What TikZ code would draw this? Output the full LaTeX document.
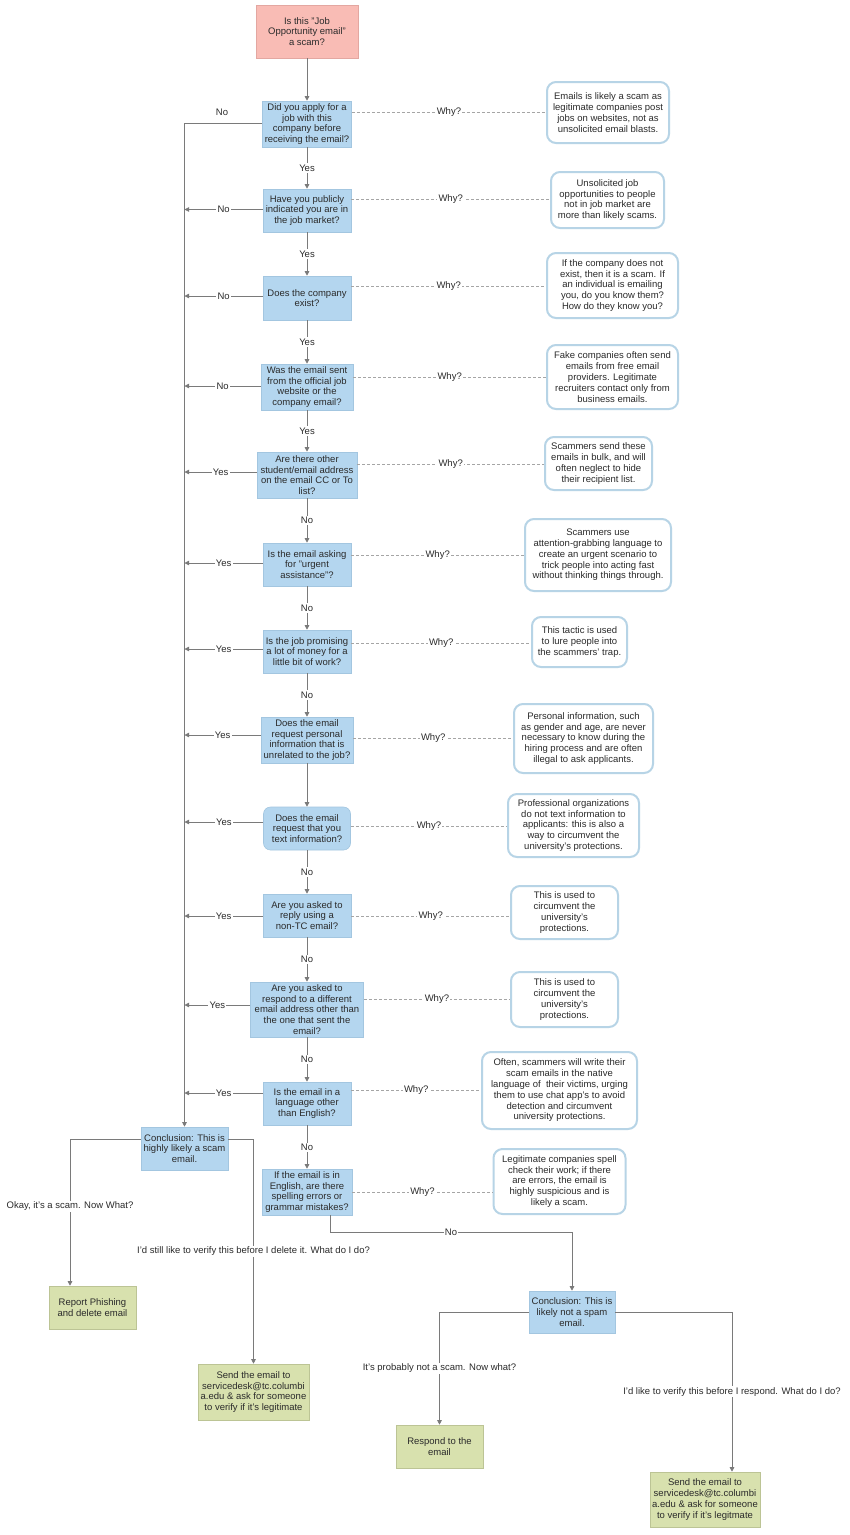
\documentclass[tikz,border=0pt]{standalone}
\usepackage{fontspec}
\setmainfont{Liberation Sans}
\usetikzlibrary{arrows.meta,calc}
\definecolor{qblue}{HTML}{B4D6EF}
\definecolor{qblueb}{HTML}{A3C6E0}
\definecolor{pinkf}{HTML}{F9BCB5}
\definecolor{pinkb}{HTML}{E3A7A1}
\definecolor{greenf}{HTML}{D8E1AE}
\definecolor{greenb}{HTML}{BCC495}
\definecolor{nborder}{HTML}{B7D4E6}
\definecolor{lgray}{HTML}{7A7A7A}
\definecolor{dgray}{HTML}{A5A5A5}
\definecolor{txt}{HTML}{2B2B2B}
\tikzset{
  base/.style={font=\fontsize{9.5}{10.8}\selectfont, text=txt, align=center, inner sep=0pt},
  qbox/.style={base, rectangle, fill=qblue, draw=qblueb, line width=0.6pt},
  startbox/.style={base, rectangle, fill=pinkf, draw=pinkb, line width=0.6pt},
  endbox/.style={base, rectangle, fill=greenf, draw=greenb, line width=0.6pt},
  note/.style={base, rectangle, rounded corners=9pt, fill=white, draw=nborder, line width=2pt},
  conn/.style={draw=lgray, line width=0.8pt},
  arr/.style={conn, -{Triangle[length=4.5pt,width=4.5pt]}},
  why/.style={draw=dgray, line width=0.6pt, dash pattern=on 3pt off 2pt},
  lab/.style={base, fill=white, inner sep=1.2pt},
}
\begin{document}
\begin{tikzpicture}[x=1pt,y=-1pt]
\useasboundingbox (0,0) rectangle (850,1535);
\fill[white] (0,0) rectangle (850,1535);

% start
\node[startbox, minimum width=102pt, minimum height=53pt] (S) at (307,31.5) {Is this "Job\\Opportunity email"\\a scam?};

% questions
\node[qbox, minimum width=89pt, minimum height=46pt] (Q1) at (307,124) {Did you apply for a\\job with this\\company before\\receiving the email?};
\node[qbox, minimum width=88pt, minimum height=43pt] (Q2) at (307,210.5) {Have you publicly\\indicated you are in\\the job market?};
\node[qbox, minimum width=88pt, minimum height=44pt] (Q3) at (307,298) {Does the company\\exist?};
\node[qbox, minimum width=92pt, minimum height=46pt] (Q4) at (307,387) {Was the email sent\\from the official job\\website or the\\company email?};
\node[qbox, minimum width=100pt, minimum height=46pt] (Q5) at (307,475) {Are there other\\student/email address\\on the email CC or To\\list?};
\node[qbox, minimum width=88pt, minimum height=43pt] (Q6) at (307,564.5) {Is the email asking\\for "urgent\\assistance"?};
\node[qbox, minimum width=88pt, minimum height=43pt] (Q7) at (307,651.5) {Is the job promising\\a lot of money for a\\little bit of work?};
\node[qbox, minimum width=92pt, minimum height=46pt] (Q8) at (307,740) {Does the email\\request personal\\information that is\\unrelated to the job?};
\node[qbox, rounded corners=7pt, minimum width=87pt, minimum height=43pt] (Q9) at (307,828.5) {Does the email\\request that you\\text information?};
\node[qbox, minimum width=88pt, minimum height=43pt] (Q10) at (307,915.5) {Are you asked to\\reply using a\\non-TC email?};
\node[qbox, minimum width=113pt, minimum height=55pt] (Q11) at (307,1009.5) {Are you asked to\\respond to a different\\email address other than\\the one that sent the\\email?};
\node[qbox, minimum width=88pt, minimum height=43pt] (Q12) at (307,1103.5) {Is the email in a\\language other\\than English?};
\node[qbox, minimum width=90pt, minimum height=46pt] (Q13) at (307,1192) {If the email is in\\English, are there\\spelling errors or\\grammar mistakes?};

% conclusions and actions
\node[qbox, minimum width=87pt, minimum height=43pt] (C1) at (184.5,1148.5) {Conclusion: This is\\highly likely a scam\\email.};
\node[qbox, minimum width=86pt, minimum height=42pt] (C2) at (572,1312) {Conclusion: This is\\likely not a spam\\email.};
\node[endbox, minimum width=87pt, minimum height=43pt] (R) at (92.5,1307.5) {Report Phishing\\and delete email};
\node[endbox, minimum width=111pt, minimum height=56pt] (SD1) at (253.5,1392) {Send the email to\\servicedesk@tc.columbi\\a.edu \& ask for someone\\to verify if it's legitimate};
\node[endbox, minimum width=87pt, minimum height=43pt] (RE) at (439.5,1446.5) {Respond to the\\email};
\node[endbox, minimum width=110pt, minimum height=55pt] (SD2) at (705,1499.5) {Send the email to\\servicedesk@tc.columbi\\a.edu \& ask for someone\\to verify if it's legitmate};

% notes
\node[note, minimum width=122pt, minimum height=61pt] (N1) at (608,112.5) {Emails is likely a scam as\\legitimate companies post\\jobs on websites, not as\\unsolicited email blasts.};
\node[note, minimum width=113pt, minimum height=56pt] (N2) at (607.5,200) {Unsolicited job\\opportunities to people\\not in job market are\\more than likely scams.};
\node[note, minimum width=131pt, minimum height=65pt] (N3) at (612.5,285.5) {If the company does not\\exist, then it is a scam. If\\an individual is emailing\\you, do you know them?\\How do they know you?};
\node[note, minimum width=131pt, minimum height=64pt] (N4) at (612.5,377) {Fake companies often send\\emails from free email\\providers. Legitimate\\recruiters contact only from\\business emails.};
\node[note, minimum width=107pt, minimum height=53pt] (N5) at (598.5,463.5) {Scammers send these\\emails in bulk, and will\\often neglect to hide\\their recipient list.};
\node[note, minimum width=146pt, minimum height=72pt] (N6) at (598,555) {Scammers use\\attention-grabbing language to\\create an urgent scenario to\\trick people into acting fast\\without thinking things through.};
\node[note, minimum width=95pt, minimum height=50pt] (N7) at (579.5,642) {This tactic is used\\to lure people into\\the scammers' trap.};
\node[note, minimum width=139pt, minimum height=69pt] (N8) at (583.5,738.5) {Personal information, such\\as gender and age, are never\\necessary to know during the\\hiring process and are often\\illegal to ask applicants.};
\node[note, minimum width=131pt, minimum height=63pt] (N9) at (573.5,825.5) {Professional organizations\\do not text information to\\applicants: this is also a\\way to circumvent the\\university's protections.};
\node[note, minimum width=107pt, minimum height=53pt] (N10) at (564.5,912.5) {This is used to\\circumvent the\\university's\\protections.};
\node[note, minimum width=107pt, minimum height=55pt] (N11) at (564.5,999.5) {This is used to\\circumvent the\\university's\\protections.};
\node[note, minimum width=155pt, minimum height=77pt] (N12) at (559.5,1090.5) {Often, scammers will write their\\scam emails in the native\\language of\ \ their victims, urging\\them to use chat app's to avoid\\detection and circumvent\\university protections.};
\node[note, minimum width=132pt, minimum height=65pt] (N13) at (559.5,1181.5) {Legitimate companies spell\\check their work; if there\\are errors, the email is\\highly suspicious and is\\likely a scam.};

% main column
\draw[arr] (S) -- (Q1);
\draw[arr] (Q1) -- node[lab]{Yes} (Q2);
\draw[arr] (Q2) -- node[lab]{Yes} (Q3);
\draw[arr] (Q3) -- node[lab]{Yes} (Q4);
\draw[arr] (Q4) -- node[lab]{Yes} (Q5);
\draw[arr] (Q5) -- node[lab]{No} (Q6);
\draw[arr] (Q6) -- node[lab]{No} (Q7);
\draw[arr] (Q7) -- node[lab]{No} (Q8);
\draw[arr] (Q8) -- (Q9);
\draw[arr] (Q9) -- node[lab]{No} (Q10);
\draw[arr] (Q10) -- node[lab]{No} (Q11);
\draw[arr] (Q11) -- node[lab]{No} (Q12);
\draw[arr] (Q12) -- node[lab]{No} (Q13);

% trunk
\coordinate (T1) at (184.5,123);
\coordinate (T2) at (184.5,209.5);
\coordinate (T3) at (184.5,296);
\coordinate (T4) at (184.5,386);
\coordinate (T5) at (184.5,472);
\coordinate (T6) at (184.5,563);
\coordinate (T7) at (184.5,649);
\coordinate (T8) at (184.5,735);
\coordinate (T9) at (184.5,822);
\coordinate (T10) at (184.5,916);
\coordinate (T11) at (184.5,1005);
\coordinate (T12) at (184.5,1093);
\draw[conn] (Q1.west |- T1) -- (T1);
\node[base] at (222,112) {No};
\draw[arr] (T1) -- (C1.north);
\draw[arr] (Q2.west |- T2) -- node[lab]{No} (T2);
\draw[arr] (Q3.west |- T3) -- node[lab]{No} (T3);
\draw[arr] (Q4.west |- T4) -- node[lab]{No} (T4);
\draw[arr] (Q5.west |- T5) -- node[lab]{Yes} (T5);
\draw[arr] (Q6.west |- T6) -- node[lab]{Yes} (T6);
\draw[arr] (Q7.west |- T7) -- node[lab]{Yes} (T7);
\draw[arr] (Q8.west |- T8) -- node[lab]{Yes} (T8);
\draw[arr] (Q9.west |- T9) -- node[lab]{Yes} (T9);
\draw[arr] (Q10.west |- T10) -- node[lab]{Yes} (T10);
\draw[arr] (Q11.west |- T11) -- node[lab]{Yes} (T11);
\draw[arr] (Q12.west |- T12) -- node[lab]{Yes} (T12);

% why connectors
\draw[why] (Q1.east |- 0,112) -- node[lab]{Why?} (N1.west |- 0,112);
\draw[why] (Q2.east |- 0,199) -- node[lab]{Why?} (N2.west |- 0,199);
\draw[why] (Q3.east |- 0,286) -- node[lab]{Why?} (N3.west |- 0,286);
\draw[why] (Q4.east |- 0,377) -- node[lab]{Why?} (N4.west |- 0,377);
\draw[why] (Q5.east |- 0,464) -- node[lab]{Why?} (N5.west |- 0,464);
\draw[why] (Q6.east |- 0,555) -- node[lab]{Why?} (N6.west |- 0,555);
\draw[why] (Q7.east |- 0,643) -- node[lab]{Why?} (N7.west |- 0,643);
\draw[why] (Q8.east |- 0,738) -- node[lab]{Why?} (N8.west |- 0,738);
\draw[why] (Q9.east |- 0,826) -- node[lab]{Why?} (N9.west |- 0,826);
\draw[why] (Q10.east |- 0,916) -- node[lab]{Why?} (N10.west |- 0,916);
\draw[why] (Q11.east |- 0,999) -- node[lab]{Why?} (N11.west |- 0,999);
\draw[why] (Q12.east |- 0,1090) -- node[lab]{Why?} (N12.west |- 0,1090);
\draw[why] (Q13.east |- 0,1192) -- node[lab]{Why?} (N13.west |- 0,1192);

% Q13 -> C2
\draw[arr] (Q13.south -| 330,0) |- node[lab,pos=0.75]{No} (C2.north |- 0,1232) -- (C2.north);

% conclusion branches
\draw[arr] (C1.west |- 0,1139) -| node[lab,pos=0.73]{Okay, it's a scam. Now What?} (R.north -| 70,0);
\draw[arr] (C1.east |- 0,1139) -| node[lab,pos=0.75]{I'd still like to verify this before I delete it. What do I do?} (SD1.north);
\draw[arr] (C2.west) -| node[lab,pos=0.75]{It's probably not a scam. Now what?} (RE.north);
\draw[arr] (C2.east) -| node[lab,pos=0.75]{I'd like to verify this before I respond. What do I do?} (SD2.north -| 732,0);
\end{tikzpicture}
\end{document}
